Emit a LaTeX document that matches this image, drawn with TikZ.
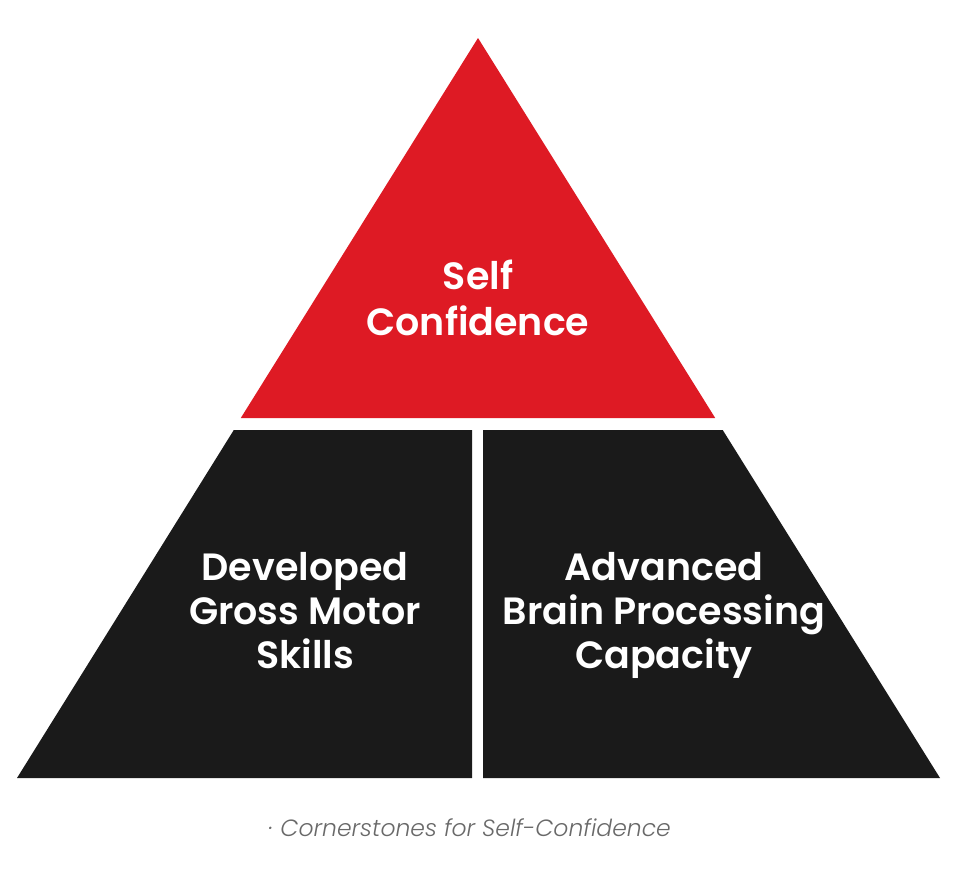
\documentclass[tikz,border=0pt]{standalone}
\usepackage{fontspec}
\newfontfamily\popsb{Poppins}[UprightFont=* SemiBold]
\newfontfamily\popit{Poppins}[UprightFont=* Light Italic]
\definecolor{pyred}{RGB}{222,26,36}
\definecolor{pyblack}{RGB}{26,26,26}
\definecolor{capgray}{RGB}{105,105,105}
\tikzset{
  lbl/.style={text=white, align=center, font=\popsb\fontsize{38}{45}\selectfont, inner sep=0pt},
  captext/.style={text=capgray, font=\popit\fontsize{23.5}{27}\selectfont, inner sep=0pt, anchor=base}
}
\begin{document}
\begin{tikzpicture}[x=1pt,y=-1pt]
\useasboundingbox (0,0) rectangle (966,868);
\fill[white] (0,0) rectangle (966,868);
% red top triangle
\fill[pyred] (478,38) -- (715.2,418) -- (240.8,418) -- cycle;
% black lower pieces
\fill[pyblack] (233.8,430) -- (472,430) -- (472,778) -- (17,778) -- cycle;
\fill[pyblack] (483,430) -- (722.7,430) -- (940,778) -- (483,778) -- cycle;
\node[lbl, anchor=base] (top) at (478,289) {Self};
\node[lbl, anchor=base] (top2) at (478,335) {Confidence};
\node[lbl, anchor=base] (l1) at (305,580) {Developed};
\node[lbl, anchor=base] (l2) at (305,624) {Gross Motor};
\node[lbl, anchor=base] (l3) at (305,668) {Skills};
\node[lbl, anchor=base] (r1) at (664,580) {Advanced};
\node[lbl, anchor=base] (r2) at (664,624) {Brain Processing};
\node[lbl, anchor=base] (r3) at (664,668) {Capacity};
\node[captext] (caption) at (470,836) {\textperiodcentered\ Cornerstones for Self-Confidence};
\end{tikzpicture}
\end{document}
